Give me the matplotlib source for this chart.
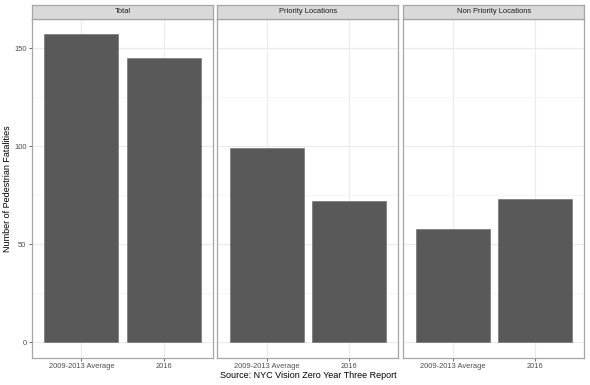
import numpy as np
import matplotlib
matplotlib.use("Agg")
import matplotlib.pyplot as plt

plt.rcParams["font.family"] = ["Liberation Sans", "DejaVu Sans"]

# data
panels = ["Total", "Priority Locations", "Non Priority Locations"]
periods = ["2009-2013 Average", "2016"]
total = [157, 145]
priority = [99, 72]
non_priority = [58, 73]
series = [total, priority, non_priority]

W, H = 590, 385
fig = plt.figure(figsize=(W / 100, H / 100), dpi=100)

# panel pixel boxes (left edges, common width)
lefts = [32, 217.3, 403.3]
pw = 181.0
top_px, bot_px, strip_top = 19.0, 357.7, 4.7

ymax = max(max(s) for s in series)
ylim = (-0.05 * ymax, 1.05 * ymax)
border = "#a6a6a6"
small = 5.4

for i, (name, vals) in enumerate(zip(panels, series)):
    ax = fig.add_axes([lefts[i] / W, (H - bot_px) / H, pw / W, (bot_px - top_px) / H])
    x = np.arange(len(periods))
    ax.bar(x, vals, width=0.9, color="#595959", edgecolor="#6a6a6a", linewidth=0.4, zorder=3)
    ax.set_xlim(-0.6, 1.6)
    ax.set_ylim(*ylim)
    ax.set_xticks(x)
    ax.set_xticklabels(periods, fontsize=small, color="#4d4d4d")
    ax.set_yticks([0, 50, 100, 150])
    ax.set_yticks([25, 75, 125], minor=True)
    if i == 0:
        ax.set_yticklabels(["0", "50", "100", "150"], fontsize=small, color="#4d4d4d")
    else:
        ax.tick_params(axis="y", which="both", left=False, labelleft=False)
    ax.tick_params(axis="both", which="major", length=2, width=0.6, color="#4d4d4d", pad=2)
    ax.tick_params(axis="y", which="minor", left=False)
    ax.grid(True, which="major", color="#ebebeb", linewidth=0.8, zorder=0)
    ax.grid(True, which="minor", axis="y", color="#f2f2f2", linewidth=0.5, zorder=0)
    for sp in ax.spines.values():
        sp.set_color(border)
        sp.set_linewidth(0.9)
    # strip
    sax = fig.add_axes([lefts[i] / W, (H - top_px) / H, pw / W, (top_px - strip_top) / H])
    sax.set_facecolor("#d9d9d9")
    sax.set_xticks([])
    sax.set_yticks([])
    for sp in sax.spines.values():
        sp.set_color(border)
        sp.set_linewidth(0.9)
    sax.text(0.5, 0.5, name, ha="center", va="center", fontsize=small,
             color="#1a1a1a", transform=sax.transAxes)

fig.text(308.5 / W, (H - 375.5) / H, "Source: NYC Vision Zero Year Three Report",
         ha="center", va="center", fontsize=6.5)
fig.text(8 / W, (H - (top_px + bot_px) / 2) / H, "Number of Pedestrian Fatalities",
         ha="center", va="center", rotation=90, fontsize=6.5)

fig.savefig("out.png", dpi=100)
